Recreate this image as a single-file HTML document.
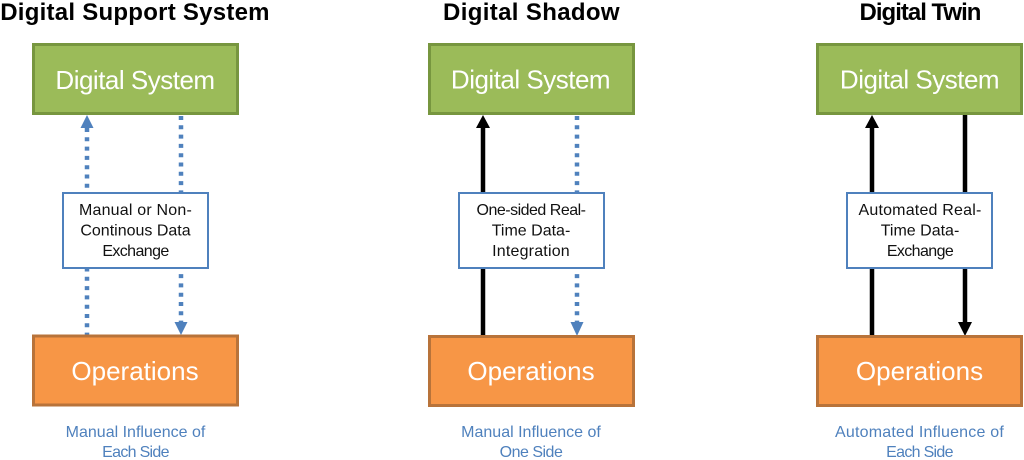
<!DOCTYPE html>
<html>
<head>
<meta charset="utf-8">
<style>
  html, body { margin: 0; padding: 0; background: #ffffff; }
  body { width: 1024px; height: 460px; overflow: hidden; }
  svg { display: block; }
  text { text-anchor: middle; }
  .title { font-family: "Liberation Sans", sans-serif; font-weight: bold; font-size: 24px; fill: #000; }
  .big { font-family: "Liberation Sans", sans-serif; font-size: 26px; fill: #fff; }
  .mid { font-family: "Liberation Sans", sans-serif; font-size: 16px; fill: #111; }
  .cap { font-family: "Liberation Sans", sans-serif; font-size: 16px; fill: #4f81bd; }
</style>
</head>
<body>
<svg width="1024" height="460" viewBox="0 0 1024 460" xmlns="http://www.w3.org/2000/svg">
  <!-- Titles -->
  <text class="title" x="135" y="20" style="letter-spacing:0.25px">Digital Support System</text>
  <text class="title" x="531.5" y="20" style="letter-spacing:0.35px">Digital Shadow</text>
  <text class="title" x="920" y="20" style="letter-spacing:-1px">Digital Twin</text>

  <!-- ===== Panel 1 ===== -->
  <line x1="87" y1="128" x2="87" y2="335" stroke="#4f81bd" stroke-width="4.5" stroke-dasharray="4 5.3"/>
  <polygon points="87,115 80.5,128 93.5,128" fill="#4f81bd"/>
  <line x1="181" y1="116" x2="181" y2="322" stroke="#4f81bd" stroke-width="4.5" stroke-dasharray="4 5.3"/>
  <polygon points="181,335 174.5,322 187.5,322" fill="#4f81bd"/>
  <rect x="33.5" y="44.5" width="204" height="69" fill="#9bbb59" stroke="#77963f" stroke-width="3"/>
  <text class="big" x="135" y="89" style="letter-spacing:-0.5px">Digital System</text>
  <rect x="63" y="193" width="145" height="75" fill="#fff" stroke="#4f81bd" stroke-width="2"/>
  <text class="mid" x="135.5" y="215" style="letter-spacing:0.2px">Manual or Non-</text>
  <text class="mid" x="135.5" y="235.5">Continous Data</text>
  <text class="mid" x="135.5" y="256" style="letter-spacing:-0.6px">Exchange</text>
  <rect x="33.5" y="336" width="204" height="69" fill="#f79646" stroke="#b8733a" stroke-width="3"/>
  <text class="big" x="135" y="380">Operations</text>
  <text class="cap" x="135.5" y="437">Manual Influence of</text>
  <text class="cap" x="135.5" y="457" style="letter-spacing:-0.7px">Each Side</text>

  <!-- ===== Panel 2 ===== -->
  <line x1="483" y1="127" x2="483" y2="336" stroke="#000" stroke-width="4.5"/>
  <polygon points="483,115 476,128 490,128" fill="#000"/>
  <line x1="577" y1="116" x2="577" y2="322" stroke="#4f81bd" stroke-width="4.5" stroke-dasharray="4 5.3"/>
  <polygon points="577,336 570.5,322 583.5,322" fill="#4f81bd"/>
  <rect x="429.5" y="44.5" width="204" height="69" fill="#9bbb59" stroke="#77963f" stroke-width="3"/>
  <text class="big" x="530.5" y="88.5" style="letter-spacing:-0.5px">Digital System</text>
  <rect x="459" y="193" width="145" height="75" fill="#fff" stroke="#4f81bd" stroke-width="2"/>
  <text class="mid" x="531" y="215" style="letter-spacing:-0.5px">One-sided Real-</text>
  <text class="mid" x="531" y="235.5">Time Data-</text>
  <text class="mid" x="531" y="256" style="letter-spacing:0.2px">Integration</text>
  <rect x="429.5" y="336.5" width="204" height="69" fill="#f79646" stroke="#b8733a" stroke-width="3"/>
  <text class="big" x="531" y="380">Operations</text>
  <text class="cap" x="531" y="437">Manual Influence of</text>
  <text class="cap" x="531" y="457" style="letter-spacing:-0.5px">One Side</text>

  <!-- ===== Panel 3 ===== -->
  <line x1="872" y1="127" x2="872" y2="336" stroke="#000" stroke-width="4.5"/>
  <polygon points="872,115 865,128 879,128" fill="#000"/>
  <line x1="965" y1="114" x2="965" y2="323" stroke="#000" stroke-width="4.5"/>
  <polygon points="965,336 958,322 972,322" fill="#000"/>
  <rect x="817.5" y="44.5" width="204" height="69" fill="#9bbb59" stroke="#77963f" stroke-width="3"/>
  <text class="big" x="919.5" y="88.5" style="letter-spacing:-0.5px">Digital System</text>
  <rect x="847" y="193" width="145" height="75" fill="#fff" stroke="#4f81bd" stroke-width="2"/>
  <text class="mid" x="920" y="215" style="letter-spacing:0.2px">Automated Real-</text>
  <text class="mid" x="920" y="235.5">Time Data-</text>
  <text class="mid" x="920" y="256" style="letter-spacing:-0.6px">Exchange</text>
  <rect x="817.5" y="336.5" width="204" height="69" fill="#f79646" stroke="#b8733a" stroke-width="3"/>
  <text class="big" x="919.5" y="380">Operations</text>
  <text class="cap" x="919.5" y="437" style="letter-spacing:0.2px">Automated Influence of</text>
  <text class="cap" x="919.5" y="457" style="letter-spacing:-0.7px">Each Side</text>
</svg>
</body>
</html>
